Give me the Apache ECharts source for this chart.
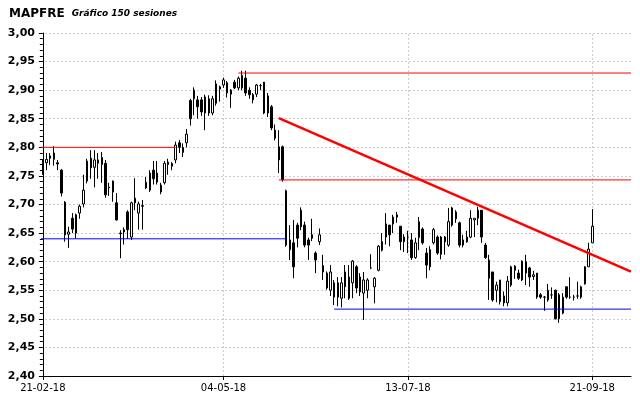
<!DOCTYPE html>
<html>
<head>
<meta charset="utf-8">
<script src="https://cdn.jsdelivr.net/npm/echarts@6/dist/echarts.min.js"></script>
<style>html,body{margin:0;padding:0;background:#fff}#c{width:640px;height:398px}</style>
</head>
<body>
<div id="c"></div>
<script>
// ---- data ----
const closedDays = ['2018-03-30', '2018-04-02', '2018-05-01'];
const sessionCount = 150;
const tickLabels = ['21-02-18', '04-05-18', '13-07-18', '21-09-18'];
const yTicks = { min: 2.40, max: 3.00, step: 0.05 };
// [open, close, low, high]
const ohlc = [
[2.757,2.773,2.752,2.779],[2.773,2.779,2.760,2.790],[2.785,2.781,2.769,2.790],[2.790,2.779,2.768,2.802],
[2.773,2.771,2.760,2.778],[2.760,2.720,2.714,2.762],[2.704,2.647,2.635,2.706],[2.648,2.652,2.624,2.661],
[2.676,2.657,2.650,2.685],[2.650,2.682,2.641,2.684],[2.685,2.697,2.675,2.700],[2.701,2.725,2.695,2.752],
[2.741,2.776,2.737,2.780],[2.781,2.764,2.745,2.795],[2.765,2.778,2.730,2.795],[2.778,2.772,2.745,2.790],
[2.782,2.770,2.738,2.792],[2.772,2.717,2.712,2.778],[2.730,2.729,2.715,2.738],[2.741,2.722,2.705,2.742],
[2.703,2.673,2.672,2.720],[2.650,2.649,2.606,2.655],[2.656,2.652,2.630,2.660],[2.687,2.656,2.640,2.690],
[2.643,2.703,2.638,2.705],[2.711,2.703,2.690,2.746],[2.685,2.701,2.656,2.705],[2.698,2.697,2.656,2.708],
[2.729,2.739,2.727,2.748],[2.725,2.755,2.722,2.760],[2.760,2.745,2.735,2.776],[2.739,2.755,2.735,2.776],
[2.734,2.722,2.718,2.738],[2.738,2.772,2.735,2.776],[2.774,2.770,2.752,2.780],[2.767,2.772,2.760,2.774],
[2.778,2.804,2.772,2.810],[2.808,2.800,2.790,2.813],[2.791,2.800,2.783,2.807],[2.808,2.823,2.800,2.832],
[2.882,2.850,2.838,2.885],[2.885,2.900,2.856,2.905],[2.883,2.871,2.850,2.890],[2.883,2.862,2.855,2.888],
[2.888,2.860,2.830,2.892],[2.860,2.885,2.855,2.891],[2.860,2.885,2.856,2.890],[2.877,2.911,2.873,2.917],
[2.902,2.906,2.880,2.908],[2.909,2.918,2.904,2.922],[2.913,2.895,2.887,2.916],[2.893,2.900,2.869,2.902],
[2.914,2.904,2.902,2.918],[2.904,2.921,2.900,2.924],[2.904,2.926,2.900,2.934],[2.921,2.895,2.890,2.934],
[2.900,2.892,2.885,2.905],[2.892,2.883,2.877,2.895],[2.893,2.909,2.888,2.911],[2.908,2.908,2.900,2.911],
[2.914,2.860,2.858,2.914],[2.860,2.890,2.853,2.895],[2.871,2.834,2.830,2.874],[2.830,2.816,2.812,2.840],
[2.801,2.778,2.755,2.830],[2.801,2.743,2.740,2.803],[2.724,2.629,2.626,2.726],[2.638,2.621,2.603,2.664],
[2.633,2.591,2.571,2.673],[2.664,2.641,2.625,2.668],[2.690,2.661,2.655,2.695],[2.664,2.629,2.625,2.670],
[2.638,2.629,2.603,2.642],[2.647,2.641,2.636,2.675],[2.615,2.603,2.580,2.618],[2.635,2.647,2.629,2.658],
[2.593,2.582,2.568,2.612],[2.580,2.554,2.551,2.583],[2.550,2.582,2.540,2.594],[2.563,2.538,2.524,2.568],
[2.538,2.563,2.522,2.573],[2.536,2.563,2.520,2.573],[2.582,2.556,2.536,2.594],[2.573,2.536,2.533,2.594],
[2.563,2.601,2.536,2.603],[2.591,2.554,2.545,2.594],[2.573,2.547,2.540,2.580],[2.545,2.568,2.498,2.582],
[2.550,2.568,2.536,2.571],[2.589,2.589,2.587,2.613],[2.556,2.571,2.527,2.573],[2.585,2.627,2.583,2.629],
[2.635,2.620,2.618,2.650],[2.643,2.666,2.630,2.685],[2.664,2.647,2.627,2.664],[2.666,2.678,2.650,2.682],
[2.678,2.682,2.668,2.687],[2.662,2.635,2.620,2.662],[2.643,2.635,2.617,2.648],[2.643,2.643,2.615,2.654],
[2.638,2.607,2.603,2.650],[2.607,2.633,2.605,2.642],[2.642,2.670,2.620,2.678],[2.657,2.633,2.630,2.660],
[2.615,2.594,2.571,2.624],[2.621,2.591,2.585,2.627],[2.633,2.656,2.630,2.659],[2.643,2.615,2.612,2.646],
[2.643,2.613,2.604,2.645],[2.643,2.635,2.612,2.645],[2.629,2.670,2.626,2.694],[2.664,2.694,2.661,2.696],
[2.687,2.675,2.668,2.690],[2.668,2.629,2.625,2.670],[2.638,2.629,2.625,2.647],[2.643,2.635,2.633,2.654],
[2.643,2.676,2.641,2.690],[2.673,2.676,2.643,2.676],[2.676,2.690,2.664,2.696],[2.690,2.643,2.633,2.690],
[2.629,2.607,2.605,2.633],[2.603,2.571,2.533,2.612],[2.582,2.533,2.530,2.582],[2.550,2.559,2.529,2.565],
[2.568,2.530,2.525,2.568],[2.540,2.528,2.522,2.548],[2.528,2.566,2.522,2.575],[2.559,2.591,2.556,2.593],
[2.592,2.585,2.570,2.594],[2.580,2.571,2.568,2.586],[2.568,2.601,2.566,2.602],[2.600,2.580,2.559,2.612],
[2.589,2.573,2.556,2.591],[2.574,2.577,2.568,2.584],[2.580,2.538,2.535,2.580],[2.542,2.538,2.535,2.545],
[2.538,2.538,2.514,2.540],[2.533,2.550,2.530,2.561],[2.542,2.542,2.535,2.555],[2.550,2.500,2.499,2.551],
[2.542,2.500,2.493,2.545],[2.510,2.538,2.508,2.545],[2.556,2.538,2.535,2.557],[2.538,2.538,2.535,2.573],
[2.538,2.538,2.532,2.542],[2.540,2.540,2.535,2.565],[2.538,2.556,2.535,2.558],[2.561,2.591,2.560,2.592],
[2.591,2.622,2.591,2.633],[2.633,2.662,2.633,2.692]
];
// extra empty sessions on the right (projection space)
const extraSlots = 10;
// support / resistance levels: [fromSession, toSession, price]
const resistanceLevels = [[-0.5, 36, 2.800], [53, 159.5, 2.930], [64, 159.5, 2.743]];
const supportLevels = [[-0.5, 66, 2.640], [79, 159.5, 2.517]];
// trend line: [[session, price], [session, price]]
const trendLine = [[64, 2.851], [159.5, 2.5825]];

// ---- build ----
function buildSessions(startISO, n, closed) {
  const out = [];
  const d = new Date(startISO + 'T12:00:00Z');
  while (out.length < n) {
    const wd = d.getUTCDay();
    const iso = d.toISOString().slice(0, 10);
    if (wd !== 0 && wd !== 6 && !closed.includes(iso)) {
      out.push(iso.slice(8, 10) + '-' + iso.slice(5, 7) + '-' + iso.slice(2, 4));
    }
    d.setUTCDate(d.getUTCDate() + 1);
  }
  return out;
}
const categories = buildSessions('2018-02-21', sessionCount, closedDays);
const axisCats = categories.concat(Array.from({length: extraSlots}, (_, k) => 'pad' + k));
const nSlots = axisCats.length;
const showTick = (idx, val) => tickLabels.includes(val);

const lineSeries = [];
function addLine(points, color, width) {
  lineSeries.push({
    type: 'line', xAxisIndex: 1, yAxisIndex: 0, data: points, symbol: 'none',
    silent: true, z: 5, lineStyle: {color: color, width: width}
  });
}
resistanceLevels.forEach(l => addLine([[l[0], l[2]], [l[1], l[2]]], '#ff0000', 1));
supportLevels.forEach(l => addLine([[l[0], l[2]], [l[1], l[2]]], '#0000ff', 1));
addLine(trendLine, '#ff0000', 2.5);

const chart = echarts.init(document.getElementById('c'), null, {renderer: 'canvas'});
chart.setOption({
  animation: false,
  backgroundColor: '#ffffff',
  title: {
    left: 4, top: 3,
    text: '{a|MAPFRE}{b|Gráfico 150 sesiones}',
    textStyle: {
      rich: {
        a: {fontFamily: 'DejaVu Sans', fontWeight: 'bold', fontSize: 12, color: '#000'},
        b: {fontFamily: 'DejaVu Sans', fontStyle: 'italic', fontSize: 9, color: '#000', padding: [0, 0, 0, 7]}
      }
    }
  },
  grid: {left: 41, right: 9, top: 33, bottom: 22},
  xAxis: [{
    type: 'category', data: axisCats, boundaryGap: true,
    axisLine: {lineStyle: {color: '#000', width: 1}},
    axisTick: {show: true, interval: showTick, alignWithLabel: true, length: 4, lineStyle: {color: '#000'}},
    axisLabel: {interval: showTick, color: '#000', fontFamily: 'DejaVu Sans', fontSize: 10, margin: 7},
    splitLine: {show: false}
  }, {
    type: 'value', min: -0.5, max: nSlots - 0.5, show: false
  }],
  yAxis: {
    type: 'value', min: yTicks.min, max: yTicks.max, interval: yTicks.step,
    axisLine: {show: true, lineStyle: {color: '#000'}},
    axisTick: {show: true, length: 4, lineStyle: {color: '#000'}},
    minorTick: {show: true, splitNumber: 5, length: 3, lineStyle: {color: '#000'}},
    axisLabel: {
      formatter: v => v.toFixed(2).replace('.', ','),
      color: '#000', fontFamily: 'DejaVu Sans', fontWeight: 'bold', fontSize: 11, margin: 6
    },
    splitLine: {show: true, lineStyle: {color: '#cccccc', type: [2, 2], width: 1}}
  },
  series: [{
    type: 'candlestick',
    data: ohlc,
    barWidth: 2,
    z: 3,
    itemStyle: {color: '#ffffff', color0: '#000000', borderColor: '#000000', borderColor0: '#000000', borderWidth: 1},
    markLine: {
      silent: true, symbol: 'none', label: {show: false}, z: 1,
      lineStyle: {color: '#cccccc', type: [2, 2], width: 1},
      data: tickLabels.slice(1).map(t => ({xAxis: t}))
    }
  }].concat(lineSeries)
});
</script>
</body>
</html>
